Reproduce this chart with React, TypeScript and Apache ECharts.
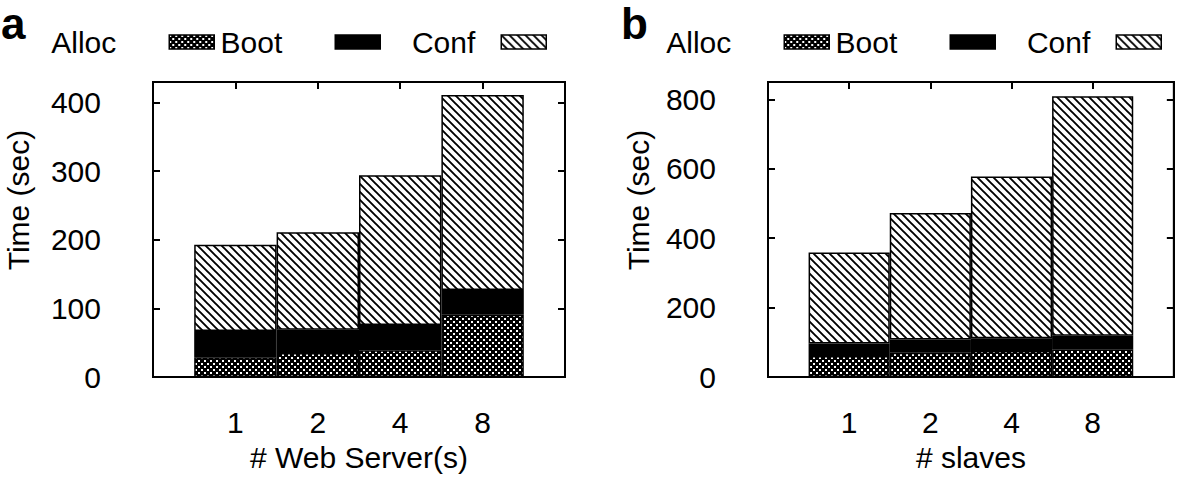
import React, { useEffect, useRef } from 'react';
import * as echarts from 'echarts';

// ---- data ----
const webServers = ['1', '2', '4', '8'];
const slaveCounts = ['1', '2', '4', '8'];
const stageNames = ['Alloc', 'Boot', 'Conf'];
const webAlloc = [29, 35, 39, 91];
const webBoot = [38, 34, 37, 36];
const webConf = [126, 142, 218, 284];
const slaveAlloc = [61, 70, 75, 80];
const slaveBoot = [36, 38, 37, 39];
const slaveConf = [262, 365, 466, 690];
const webTimeMax = 430;
const webTimeStep = 100;
const slaveTimeMax = 850;
const slaveTimeStep = 200;

const FONT = "'Liberation Sans', Arial, Helvetica, sans-serif";
const lineBlack = { color: '#000', width: 2 };
const textBase = { color: '#000', fontSize: 30, fontFamily: FONT };

function dotsPattern() {
  const s = 6;
  const c = document.createElement('canvas');
  c.width = s;
  c.height = s;
  const g = c.getContext('2d')!;
  g.fillStyle = '#000';
  g.fillRect(0, 0, s, s);
  g.fillStyle = '#fff';
  g.fillRect(0, 0, 2, 2);
  g.fillRect(3, 3, 2, 2);
  return { image: c.toDataURL(), repeat: 'repeat', imageWidth: s, imageHeight: s };
}

function hatchPattern() {
  const s = 8;
  const c = document.createElement('canvas');
  c.width = s;
  c.height = s;
  const g = c.getContext('2d')!;
  g.fillStyle = '#fff';
  g.fillRect(0, 0, s, s);
  g.strokeStyle = '#000';
  g.lineWidth = 1.9;
  g.beginPath();
  for (const x0 of [-s, 0, s]) {
    g.moveTo(x0 - 1, -1);
    g.lineTo(x0 + s + 1, s + 1);
  }
  g.stroke();
  return { image: c.toDataURL(), repeat: 'repeat', imageWidth: s, imageHeight: s };
}

function xAxes(grid: number, cats: string[], name: string) {
  const slots = ['', ...cats, ' '];
  const common = {
    gridIndex: grid,
    type: 'category',
    data: slots,
    boundaryGap: false,
    axisLine: { show: true, onZero: false, lineStyle: lineBlack },
    axisTick: { show: true, inside: true, length: 7, interval: 0, lineStyle: lineBlack },
    splitLine: { show: false },
  };
  return [
    {
      ...common,
      position: 'bottom',
      axisLabel: { ...textBase, margin: 30, interval: 0 },
      name,
      nameLocation: 'middle',
      nameGap: 60,
      nameTextStyle: textBase,
    },
    { ...common, position: 'top', axisLabel: { show: false } },
  ];
}

function yAxes(grid: number, max: number, step: number, gap: number) {
  const common = {
    gridIndex: grid,
    type: 'value',
    min: 0,
    max,
    interval: step,
    axisLine: { show: true, lineStyle: lineBlack },
    axisTick: { show: true, inside: true, length: 7, lineStyle: lineBlack },
    splitLine: { show: false },
  };
  return [
    {
      ...common,
      position: 'left',
      axisLabel: { ...textBase, margin: 52, showMaxLabel: false },
      name: 'Time (sec)',
      nameLocation: 'middle',
      nameGap: gap,
      nameTextStyle: { ...textBase, padding: [0, 0, 0, 59] },
    },
    { ...common, position: 'right', axisLabel: { show: false } },
  ];
}

function stackSeries(stack: string, axisIdx: number, lists: number[][], fills: any[]) {
  return stageNames.map((name, k) => ({
    name,
    type: 'bar',
    stack,
    xAxisIndex: axisIdx,
    yAxisIndex: axisIdx,
    barWidth: '100%',
    data: lists[k].map((v, i) => [i + 1, v]),
    itemStyle: { color: fills[k], borderColor: '#000', borderWidth: 1.5 },
    emphasis: { disabled: true },
  }));
}

function legends(shift: number) {
  const rights = [966, 800, 634];
  const pads = [48, 48, 21];
  return stageNames.map((name, k) => ({
    data: [name],
    icon: 'rect',
    align: 'right',
    orient: 'horizontal',
    itemWidth: 45,
    itemHeight: 14,
    padding: 0,
    selectedMode: false,
    right: rights[k] - shift,
    top: 27,
    itemStyle: { borderColor: '#000', borderWidth: 1.5 },
    formatter: (n: string) => `{t|${n}}`,
    textStyle: { ...textBase, rich: { t: { ...textBase, padding: [0, pads[k], 0, 0] } } },
  }));
}

export default function App() {
  const ref = useRef<HTMLDivElement>(null);
  useEffect(() => {
    document.body.style.margin = '0';
    const chart = echarts.init(ref.current!, null, { renderer: 'svg' });
    const fills = [dotsPattern(), '#000', hatchPattern()];
    const titleStyle = { fontSize: 44, fontWeight: 'bold', fontFamily: FONT, color: '#000' };
    const option: any = {
      animation: false,
      backgroundColor: '#fff',
      title: [
        { text: 'a', left: 1, top: 1, padding: 0, textStyle: titleStyle },
        { text: 'b', left: 621, top: 1, padding: 0, textStyle: titleStyle },
      ],
      legend: [...legends(0), ...legends(615)],
      grid: [
        { left: 153, top: 82, width: 412, height: 305, show: true, borderColor: '#000', borderWidth: 2, backgroundColor: 'transparent' },
        { left: 768, top: 82, width: 408, height: 305, show: true, borderColor: '#000', borderWidth: 2, backgroundColor: 'transparent' },
      ],
      xAxis: [...xAxes(0, webServers, '# Web Server(s)'), ...xAxes(1, slaveCounts, '# slaves')],
      yAxis: [
        ...yAxes(0, webTimeMax, webTimeStep, 120),
        ...yAxes(1, slaveTimeMax, slaveTimeStep, 115),
      ],
      series: [
        ...stackSeries('web', 0, [webAlloc, webBoot, webConf], fills),
        ...stackSeries('slave', 2, [slaveAlloc, slaveBoot, slaveConf], fills),
      ],
    };
    chart.setOption(option);
    return () => chart.dispose();
  }, []);
  return <div ref={ref} style={{ width: 1181, height: 477 }} />;
}
